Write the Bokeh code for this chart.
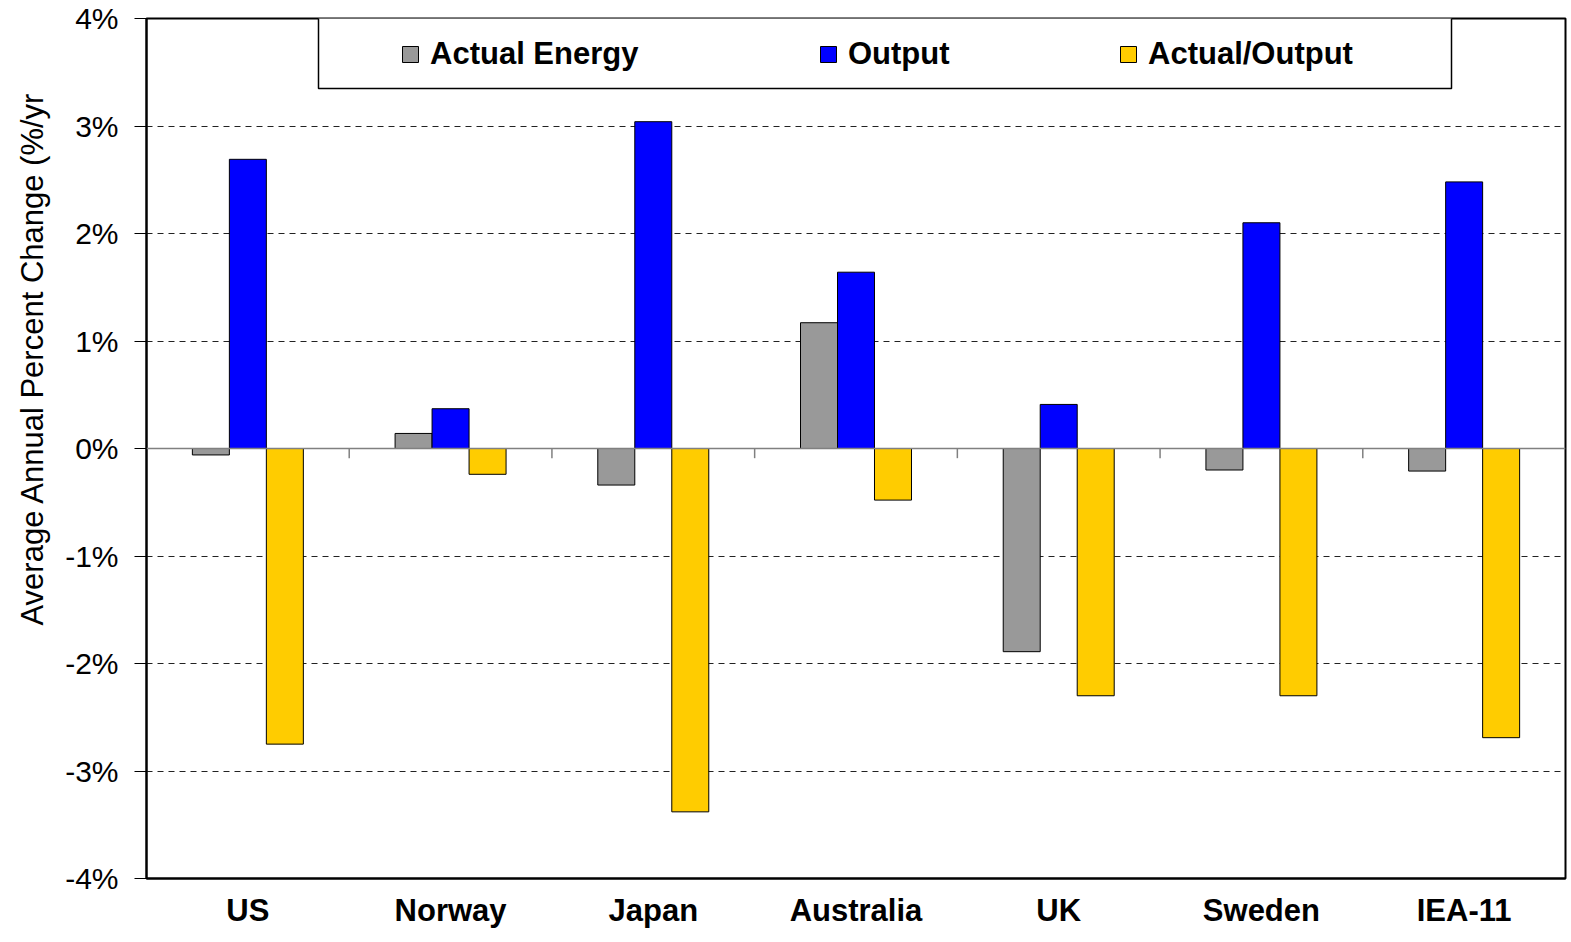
from bokeh.plotting import figure
from bokeh.models import (ColumnDataSource, Range1d, FixedTicker, Span, Legend, LegendItem,
                          BoxAnnotation, Title, PrintfTickFormatter)
from bokeh.transform import dodge
from bokeh.embed import file_html
from bokeh.resources import INLINE

categories = ["US", "Norway", "Japan", "Australia", "UK", "Sweden", "IEA-11"]
actual_energy = [-0.06, 0.14, -0.34, 1.17, -1.89, -0.20, -0.21]
output = [2.69, 0.37, 3.04, 1.64, 0.41, 2.10, 2.48]
actual_output = [-2.75, -0.24, -3.38, -0.48, -2.30, -2.30, -2.69]
series_names = ["Actual Energy", "Output", "Actual/Output"]
y_ticks = [-4, -3, -2, -1, 0, 1, 2, 3, 4]
y_label = "Average Annual Percent Change (%/yr"

FONT = "Liberation Sans"
BAR_W = 0.1825

xc = [i + 0.5 for i in range(len(categories))]
src = ColumnDataSource(dict(x=xc, ae=actual_energy, out=output, ao=actual_output))

p = figure(width=1568, height=940, x_range=Range1d(0, len(categories)), y_range=Range1d(-4, 4),
           output_backend="svg", toolbar_location=None,
           min_border_left=146, min_border_right=3, min_border_top=18, min_border_bottom=62)

p.background_fill_color = "white"
p.border_fill_color = "white"
p.outline_line_color = "black"
p.outline_line_width = 2
p.outline_line_alpha = 1

# grid
p.xgrid.visible = False
p.ygrid.ticker = FixedTicker(ticks=[t for t in y_ticks if t not in (min(y_ticks), 0, max(y_ticks))])
p.ygrid.grid_line_color = "#222222"
p.ygrid.grid_line_dash = "6 5"
p.ygrid.grid_line_width = 1

# zero line and category separator ticks
p.add_layout(Span(location=0, dimension="width", line_color="#808080", line_width=1.5))
seps = list(range(1, len(categories)))
p.segment(x0=seps, y0=[0] * len(seps), x1=seps, y1=[-0.09] * len(seps), line_color="#808080", line_width=1.5)

r1 = p.vbar(x=dodge("x", -BAR_W, range=p.x_range), top="ae", bottom=0, width=BAR_W, source=src,
            fill_color="#999999", line_color="black", line_width=1)
r2 = p.vbar(x="x", top="out", bottom=0, width=BAR_W, source=src,
            fill_color="#0000FF", line_color="black", line_width=1)
r3 = p.vbar(x=dodge("x", BAR_W, range=p.x_range), top="ao", bottom=0, width=BAR_W, source=src,
            fill_color="#FFCC00", line_color="black", line_width=1)

# axes
yax = p.yaxis[0]
yax.ticker = FixedTicker(ticks=y_ticks)
yax.formatter = PrintfTickFormatter(format="%d%%")
yax.major_label_text_font = FONT
yax.major_label_text_font_size = "30px"
yax.major_label_text_color = "black"
yax.major_tick_out = 12
yax.major_tick_in = 0
yax.minor_tick_line_color = None
yax.major_tick_line_color = "black"
yax.axis_line_color = "black"
yax.axis_line_width = 2
yax.major_label_standoff = 16

xax = p.xaxis[0]
xax.ticker = FixedTicker(ticks=xc)
xax.major_label_overrides = {x: c for x, c in zip(xc, categories)}
xax.major_label_text_font = FONT
xax.major_label_text_font_size = "31px"
xax.major_label_text_font_style = "bold"
xax.major_label_text_color = "black"
xax.major_tick_line_color = None
xax.minor_tick_line_color = None
xax.axis_line_color = "black"
xax.axis_line_width = 2
xax.major_label_standoff = 8

# y axis title (placed on the left, starting 253px above the frame bottom)
p.add_layout(Title(text=y_label, align="left", offset=253, text_font=FONT, text_font_size="31px",
                   text_font_style="normal", text_color="black", standoff=25), "left")

# legend frame
p.add_layout(BoxAnnotation(left=172, right=1305, top=861, bottom=790,
                           left_units="screen", right_units="screen", top_units="screen", bottom_units="screen",
                           fill_color="white", fill_alpha=1, line_color="black", line_width=1.5, line_alpha=1))

legend_x = [254, 672, 972]
for name, r, lx in zip(series_names, [r1, r2, r3], legend_x):
    lg = Legend(items=[LegendItem(label=name, renderers=[r])], location=(lx, 806),
                padding=0, spacing=0, margin=0, border_line_alpha=0, background_fill_alpha=0,
                glyph_width=20, glyph_height=20, label_standoff=10,
                label_text_font=FONT, label_text_font_size="31px", label_text_font_style="bold",
                label_text_color="black")
    p.add_layout(lg, "center")

open("out.html", "w").write(file_html(p, INLINE))
